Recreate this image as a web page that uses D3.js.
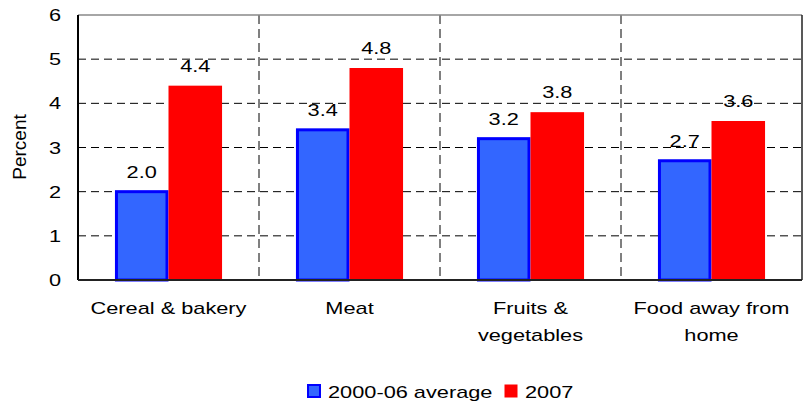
<!DOCTYPE html>
<html><head><meta charset="utf-8">
<script src="https://cdn.jsdelivr.net/npm/d3@7"></script>
<style>body{margin:0;background:#fff}svg{display:block;font-family:"Liberation Sans",Arial,sans-serif}</style>
</head><body><svg id="c" width="808" height="404"></svg>
<script>
const categories = [["Cereal & bakery"],["Meat"],["Fruits &","vegetables"],["Food away from","home"]];
const seriesNames = ["2000-06 average","2007"];
const avg0006 = [2.0,3.4,3.2,2.7];
const y2007 = [4.4,4.8,3.8,3.6];
const yTicks = [0,1,2,3,4,5,6];

const SX = 1.28, FS = 17;
const svg = d3.select("#c");
const m = {l:78,r:802,t:15,b:280};
const x = d3.scaleBand().domain(d3.range(categories.length)).range([m.l,m.r]);
const xs = d3.scaleBand().domain([0,1]).range([0,x.bandwidth()]).paddingOuter(0.69).paddingInner(0);
const y = d3.scaleLinear().domain([0,6]).range([m.b,m.t]);

function stext(parent,px,py,str,anchor,fs){
  const g = parent.append("g").attr("transform",`translate(${px},${py}) scale(${SX},1)`);
  g.append("text").attr("text-anchor",anchor||"middle").attr("font-size",fs||FS).attr("fill","#000").text(str);
  return g;
}

// grid
svg.append("g").selectAll("line").data(yTicks.filter(d=>d>0&&d<6)).join("line")
 .attr("x1",m.l).attr("x2",m.r).attr("y1",d=>y(d)).attr("y2",d=>y(d))
 .attr("stroke","#000").attr("stroke-dasharray","8,5").attr("stroke-width",1);
svg.append("g").selectAll("line").data(d3.range(1,categories.length)).join("line")
 .attr("x1",d=>x(d)).attr("x2",d=>x(d)).attr("y1",m.t).attr("y2",m.b)
 .attr("stroke","#000").attr("stroke-dasharray","9,5").attr("stroke-width",1);

// bars
const series = [avg0006,y2007];
const colors = ["#3366FF","#FF0000"];
const strokes = ["#0000FF","#FF0000"];
series.forEach((vals,si)=>{
  const sw = si===0?3:0;
  svg.append("g").selectAll("rect").data(vals).join("rect")
   .attr("x",(d,i)=>x(i)+xs(si)+sw/2)
   .attr("y",d=>y(d))
   .attr("width",xs.bandwidth()-sw)
   .attr("height",d=>y(0)-y(d))
   .attr("fill",colors[si]).attr("stroke",sw?strokes[si]:"none").attr("stroke-width",sw);
  const lg = svg.append("g");
  vals.forEach((d,i)=>stext(lg,x(i)+xs(si)+xs.bandwidth()/2,y(d)-14,d.toFixed(1)));
});

// frame
svg.append("line").attr("x1",m.l).attr("x2",m.r).attr("y1",m.t).attr("y2",m.t).attr("stroke","#888").attr("stroke-width",1.5);
svg.append("line").attr("x1",m.r).attr("x2",m.r).attr("y1",m.t).attr("y2",m.b).attr("stroke","#222").attr("stroke-width",1.5);
svg.append("line").attr("x1",m.l).attr("x2",m.l).attr("y1",m.t).attr("y2",m.b).attr("stroke","#000").attr("stroke-width",2);
svg.append("line").attr("x1",m.l).attr("x2",m.r).attr("y1",m.b).attr("y2",m.b).attr("stroke","#222").attr("stroke-width",2);

// y axis labels
const ya = svg.append("g").attr("transform",`translate(${m.l},0)`)
 .call(d3.axisLeft(y).tickValues(yTicks).tickSize(0).tickPadding(0).tickFormat(d3.format("d")));
ya.select(".domain").remove();
ya.selectAll(".tick text")
 .attr("font-size",FS).attr("font-family","Liberation Sans, Arial, sans-serif").attr("fill","#000")
 .attr("x",0).attr("dy","0.33em").attr("transform",`translate(-17,0) scale(${SX},1)`);

svg.append("text").attr("transform","translate(26,147) rotate(-90)")
 .attr("text-anchor","middle").attr("font-size",19).text("Percent");

// x labels
const xl = svg.append("g");
categories.forEach((lines,i)=>{
  lines.forEach((l,j)=>stext(xl,x(i)+x.bandwidth()/2,314+j*27,l));
});

// legend
const lgd = svg.append("g");
const lx = [308,505];
seriesNames.forEach((n,i)=>{
  lgd.append("rect").attr("x",lx[i]).attr("y",385).attr("width",12).attr("height",12)
   .attr("fill",colors[i]).attr("stroke",strokes[i]).attr("stroke-width",i===0?2:1);
  stext(lgd,lx[i]+20,397.5,n,"start");
});
</script></body></html>
